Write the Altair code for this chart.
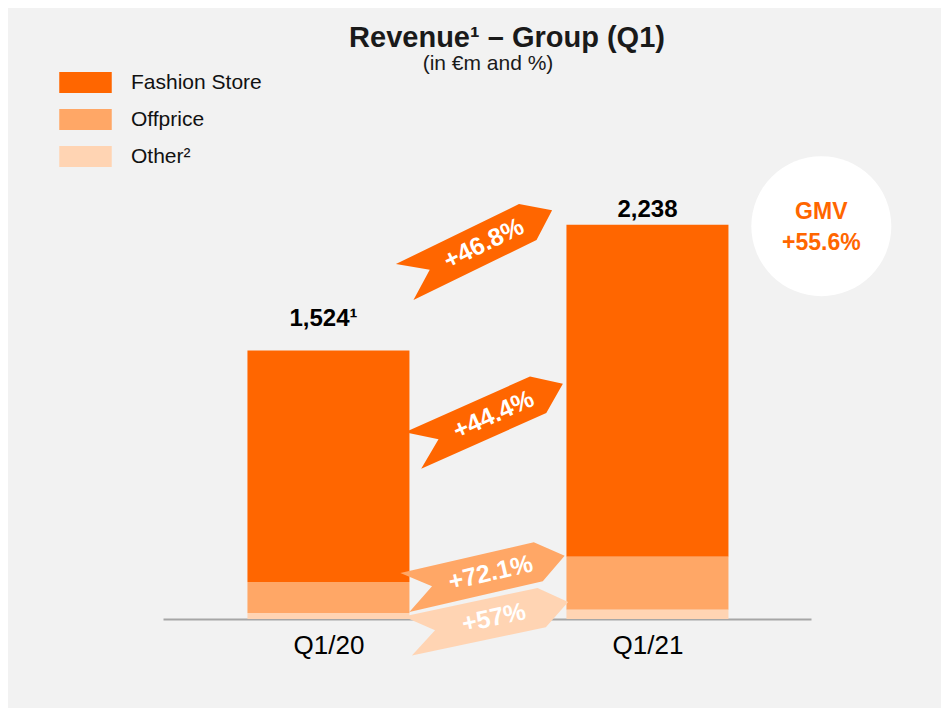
import altair as alt
import pandas as pd

FONT = "Liberation Sans, Arial, sans-serif"

# ---- data ----
categories = ["Q1/20", "Q1/21"]
segments = ["Fashion Store", "Offprice", "Other²"]
fashion_store = [1314, 1885]
offprice = [176, 300]
other = [34, 53]
total_footnotes = ["¹", ""]

arrow_labels = ["+46.8%", "+44.4%", "+72.1%", "+57%"]
arrow_segments = ["Fashion Store", "Fashion Store", "Offprice", "Other²"]
arrow_x = [0.47, 0.5, 0.49, 0.5]
arrow_y = [2117, 1146, 255, 0]

gmv_label = "GMV\n+55.6%"
gmv_x = [1.545]
gmv_y = [2230]

title_text = "Revenue¹ – Group (Q1)"
subtitle_text = "(in €m and %)"

# ---- styles ----
colors = ["#ff6600", "#ffa766", "#ffd4b3"]
arrow_angles = [334, 336, 347, 348]
total_dy = [-25, -8]
total_dx = [-5, 0]
ARROW_PATH = "M-1,-0.244L0.67,-0.244L1,0L0.67,0.244L-1,0.244L-0.66,0Z"

# ---- tables ----
rows = []
for i, c in enumerate(categories):
    for order, (s, vals) in enumerate(zip(segments, [fashion_store, offprice, other])):
        rows.append({"pos": i, "category": c, "segment": s, "value": vals[i],
                     "stack_order": len(segments) - order})
bars_df = pd.DataFrame(rows)

totals_df = pd.DataFrame({
    "pos": list(range(len(categories))),
    "value": [f + o + r for f, o, r in zip(fashion_store, offprice, other)],
})
totals_df["label"] = [f"{v:,}{fn}" for v, fn in zip(totals_df["value"], total_footnotes)]

arrows_df = pd.DataFrame({
    "pos": arrow_x, "value": arrow_y, "label": arrow_labels,
    "segment": arrow_segments, "angle": arrow_angles,
})
gmv_df = pd.DataFrame({"pos": gmv_x, "value": gmv_y, "label": [gmv_label]})
subtitle_df = pd.DataFrame({"label": [subtitle_text]})

label_expr = "[" + ",".join(f"'{c}'" for c in categories) + "][datum.value]"

X = alt.X("pos:Q",
          scale=alt.Scale(domain=[-0.503, 1.497], nice=False, zero=False),
          axis=alt.Axis(values=list(range(len(categories))), labelExpr=label_expr,
                        title=None, grid=False, ticks=False,
                        domainColor="#a6a6a6", domainWidth=2,
                        labelFontSize=26, labelFont=FONT, labelColor="#000000",
                        labelPadding=13))
Y = alt.Y("value:Q", scale=alt.Scale(domain=[0, 2600], nice=False, zero=True),
          axis=None, stack="zero")
Yn = alt.Y("value:Q", scale=alt.Scale(domain=[0, 2600], nice=False, zero=True),
           axis=None, stack=None)
color_scale = alt.Scale(domain=segments, range=colors)

bars = alt.Chart(bars_df).mark_bar(size=162).encode(
    x=X, y=Y,
    color=alt.Color("segment:N", scale=color_scale, sort=segments,
                    legend=alt.Legend(title=None, orient="none", legendX=-88, legendY=-89,
                                      direction="vertical",
                                      symbolType="M-2.5,-1H2.5V1H-2.5Z",
                                      symbolSize=441, symbolStrokeWidth=0,
                                      symbolOpacity=1,
                                      labelFontSize=21, labelFont=FONT,
                                      labelColor="#111111", labelOffset=35,
                                      rowPadding=15, padding=0)),
    order=alt.Order("stack_order:Q", sort="ascending"),
)

total_layers = []
for i in range(len(categories)):
    total_layers.append(
        alt.Chart(totals_df).transform_filter(f"datum.pos == {i}").mark_text(
            dy=total_dy[i], dx=total_dx[i], baseline="alphabetic", align="center",
            fontSize=24, fontWeight="bold", font=FONT, color="#000000",
        ).encode(x=X, y=Yn, text="label:N")
    )

arrows = alt.Chart(arrows_df).mark_point(
    shape=ARROW_PATH, size=26896, filled=True, opacity=1, strokeWidth=0
).encode(
    x=X, y=Yn,
    color=alt.Color("segment:N", scale=color_scale, legend=None),
    angle=alt.Angle("angle:Q", scale=None),
)

arrow_text = alt.Chart(arrows_df).mark_text(
    fontSize=25, fontWeight="bold", font=FONT, color="#ffffff",
    align="center", baseline="middle", dx=6,
).encode(x=X, y=Yn, text="label:N", angle=alt.Angle("angle:Q", scale=None))

gmv_circle = alt.Chart(gmv_df).mark_point(
    shape="circle", size=19600, filled=True, color="#ffffff", opacity=1, strokeWidth=0
).encode(x=X, y=Yn)

gmv_text = alt.Chart(gmv_df).mark_text(
    fontSize=23, fontWeight="bold", font=FONT, color="#ff6600",
    align="center", baseline="middle", lineBreak="\n", lineHeight=31, dy=-14,
).encode(x=X, y=Yn, text="label:N")

subtitle = alt.Chart(subtitle_df).mark_text(
    fontSize=21, font=FONT, color="#1a1a1a", align="center", baseline="middle",
).encode(x=alt.value(325), y=alt.value(-97), text="label:N")

chart = alt.layer(
    bars, *total_layers, arrows, arrow_text, gmv_circle, gmv_text, subtitle
).properties(
    width=648, height=458,
    autosize=alt.AutoSizeParams(type="none"),
    padding={"left": 155, "top": 153, "right": 130, "bottom": 89},
    background="#f2f2f2",
    title=alt.Title(
        text=title_text,
        anchor="middle", dx=20, font=FONT, fontSize=29, fontWeight="bold",
        color="#1a1a1a", offset=0,
    ),
).configure_view(stroke=None)

chart.save("out.html", embed_options={"renderer": "svg", "actions": False})
